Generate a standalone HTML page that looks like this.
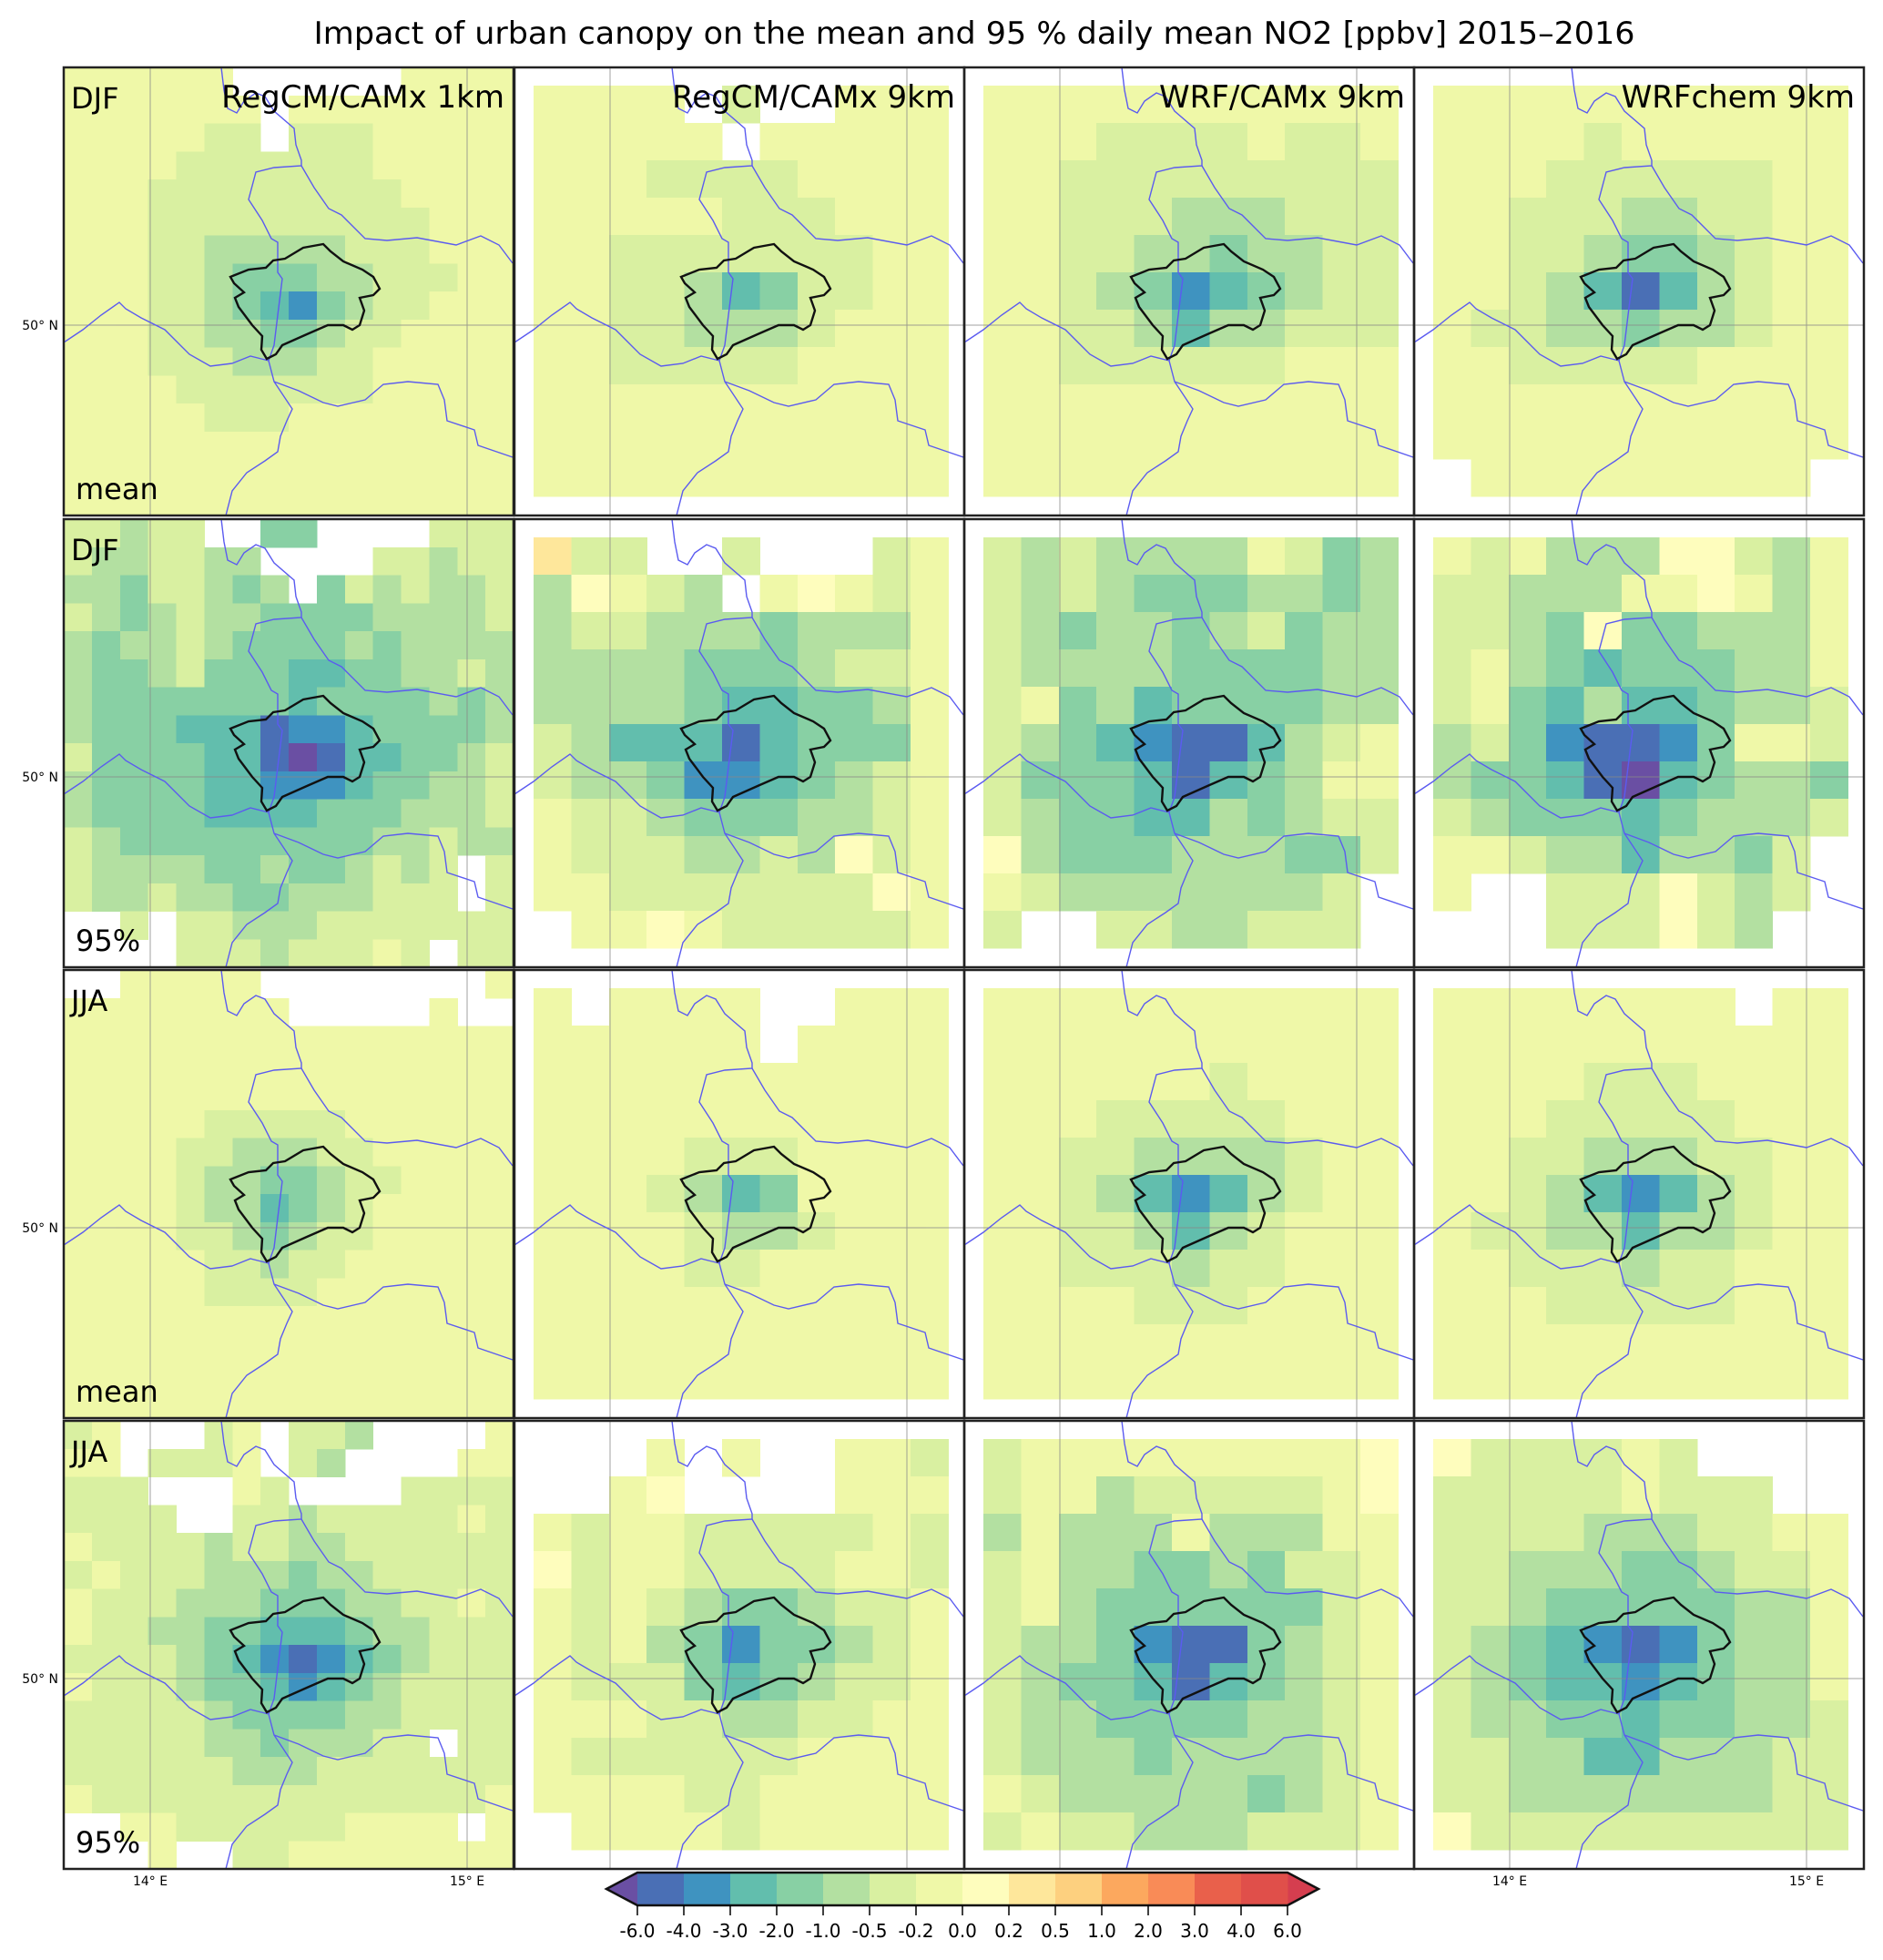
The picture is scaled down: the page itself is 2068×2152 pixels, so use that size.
<!DOCTYPE html>
<html><head><meta charset="utf-8"><title>Impact of urban canopy on NO2</title>
<style>
html,body{margin:0;padding:0;background:#fff;}
svg{display:block;font-family:"DejaVu Sans","Liberation Sans",sans-serif;}
</style></head>
<body>
<svg id="fig" xmlns="http://www.w3.org/2000/svg" width="2068" height="2152" viewBox="0 0 2068 2152">
<rect x="0" y="0" width="2068" height="2152" fill="#fff"/>
<text x="1070" y="48" font-size="34" text-anchor="middle" textLength="1451" lengthAdjust="spacingAndGlyphs" fill="#000">Impact of urban canopy on the mean and 95 % daily mean NO2 [ppbv] 2015–2016</text>
<g id="panels"></g>
<g id="colorbar"></g>
</svg>
<script>
// ---------- data ----------
const levelCodes = ["P","A","B","C","D","E","F","G","H","I"];
const levelColors = ["#6a4fa3","#4a6fb5","#3f93c0","#62bead","#88d0a4","#b3e0a1","#d9f0a1","#eff8a8","#fefdbd","#fee79b"];

const cbTicks = ["-6.0","-4.0","-3.0","-2.0","-1.0","-0.5","-0.2","0.0","0.2","0.5","1.0","2.0","3.0","4.0","6.0"];
const cbColors = ["#4a6fb5","#3f93c0","#62bead","#88d0a4","#b3e0a1","#d9f0a1","#eff8a8","#fefdbd","#fee79b","#fdd07f","#fca85e","#f98b57","#e9604b","#e04f4a"];

const djfMean1km = ["GGGGGG......GGGG","GGGGGGG.GGGGGGGG","GGGGGFF.FFFGGGGG","GGGGFFFFFFFGGGGG","GGGFFFFFFFFFGGGG","GGGFFFFFFFFFFGGG","GGGFFEEEEEFFFGGG","GGGFFEDDDEEFFFGG","GGGFFEDCBDEFFGGG","GGGFFEEDDEFFGGGG","GGGFFFEEEFFGGGGG","GGGGFFFFFFFGGGGG","GGGGGFFFGGGGGGGG","GGGGGGGGGGGGGGGG","GGGGGGGGGGGGGGGG","GGGGGGGGGGGGGGGG"];
const djfMeanRegcm9 = ["GGGG.F..GGG","GGGGG.GGGGG","GGGFFFFGGGG","GGGGGFFFGGG","GGFFFFFFFGG","GGFFECDFFGG","GGFFEEEFGGG","GGFFFFFGGGG","GGGGGGGGGGG","GGGGGGGGGGG","GGGGGGGGGGG"];
const djfMeanWrf9 = ["GGGGGGGGGGG","GGGFFFFGFFG","GGFFFFFFFFF","GGFFFEEEFFF","GGFFEEDEEFF","GGFEDBCDEFF","GGFFECEEFFF","GGFFFFFFGGG","GGGGGGGGGGG","GGGGGGGGGGG","GGGGGGGGGGG"];
const djfMeanChem9 = ["GGGGGGGGGGG","GGGGFGGGGGG","GGGFFFFFFGG","GGFFFEEFFGG","GGFFEDDEFGG","GGFECACEFGG","GFFEEDEEFGG","GGFFFFFGGGG","GGGGGGGGGGG","GGGGGGGGGGG",".GGGGGGGGG."];

const djf95_1km = ["FFEFF..DD....FFF","FEEFFEE....FFEFF","EEDFFEDE.DFEFEEF","FEDEFEEDDDDEEEEF","EDEEFEDDDDEDEEEE","EDDEFDDDCCDDEEFE","EDDDDDDDCDDDDEDE","EDDDCCCABBCDDDDE","FDDDDCCAPACCDDEF","EDDDDCCBBBCDDEEF","EDDDDCCCCDDDEEEF","FEDDDDDDDDDEEFEE","FEEEEDDEDDEFEF.F","FEEFEEDDEEEFFF.F","..F.FFEEEFFFFFFF","....FFFEFFFGF.FF"];
const djf95Regcm9 = ["IFF..F...FG","EHGFE.GHGFG","EFFEEEDEEEG","EEEEDDDEFFG","EEEEDCCDDEG","FECCCACDDDG","FEEDBBCDEFG","GFFEDDDEEFG","GFFFEEFEHFG","GGFFFFFFFHG",".GGHGFFFFFG"];
const djf95Wrf9 = ["FEFEEEEGFDE","FEFEDDDEEDE","FEDEEDEFDEE","FEEEEDDDDEE","FGDECDDDDEE","FEDCBAACEFG","FDDDCACDEGG","FEDDCCEDEFF","HEDDDEEEDDF","GFEEEEEEEF.","F..FFEEFFF."];
const djf95Chem9 = ["GFGEEEHHFEG","FFEEEGGHGEG","FFEDHDDEEEG","FGEDCDDDEEG","FGDCECCDEEF","EFDBAABDGGF","EDDCAPCDEED","FEDDDCDEEEF","GGFEECEEDF.","G..FFFHFEF.","...FFFHFE.."];

const jjaMean1km = ["..GGGGG........G","GGGGGGGG.....G..","GGGGGGGGGGGGGGGG","GGGGGGGGGGGGGGGG","GGGGGGGGGGGGGGGG","GGGGGFFFFFGGGGGG","GGGGFFEEEFFGGGGG","GGGGFEEDDEFFGGGG","GGGGFEECDEFGGGGG","GGGGFFEDEFFGGGGG","GGGGGFFEFFGGGGGG","GGGGGFFFFGGGGGGG","GGGGGGGGGGGGGGGG","GGGGGGGGGGGGGGGG","GGGGGGGGGGGGGGGG","GGGGGGGGGGGGGGGG"];
const jjaMeanRegcm9 = ["G.GGGG..GGG","GGGGGG.GGGG","GGGGGGGGGGG","GGGGGGGGGGG","GGGGFFFGGGG","GGGFECDGGGG","GGGGFEEFGGG","GGGGFFGGGGG","GGGGGGGGGGG","GGGGGGGGGGG","GGGGGGGGGGG"];
const jjaMeanWrf9 = ["GGGGGGGGGGG","GGGGGGGGGGG","GGGGGGFGGGG","GGGFFFFFGGG","GGFFEEEEFGG","GGFECBCEFGG","GGFFECEFGGG","GGFFFEFFGGG","GGGGFFFGGGG","GGGGGGGGGGG","GGGGGGGGGGG"];
const jjaMeanChem9 = ["GGGGGGGG.GG","GGGGGGGGGGG","GGGGFFFGGGG","GGGFFFFFGGG","GGFFEEEFFGG","GGFECBCEFGG","GFFEECEEFGG","GGFFFEFFGGG","GGGFFFFFGGG","GGGGGGGGGGG","GGGGGGGGGGG"];

const jja95_1km = ["FG...FG.FFE....G","GG.FFFG.FE....GG","FFF...GF....FFFF","FFFF..FFEFFFFFGF","GFFFFEFFEEFFFFFF","FGFFFEEEDEEFFFFF","GFFFEEEDDDEEFFGF","GFFEEDDCCCDEEFFF","FFFFEDCBABCDEFFF","GFFFEDDCBCDEFFFF","FFFFFEDDDDEEFFFF","FFFFFEEDEEEFF.FF","FFFFFFEEEFFFFFFF","GFFFFFFFFFFFFFFG","..GGFFFFFFGGGG.G","...G..FFGGGGGGGG"];
const jja95Regcm9 = ["...G.G..GGF","..GH....GGG","GFGGFFFFFGF","HFGGFFFFGGF","GFGFEDDEFFG","GFGEDBDDEFG","GFFFDCDEFFG","GGGFFEEFFGG","GFFFFFFGGGG","GGGGFFGGGGG",".GGGGFGGGGG"];
const jja95Wrf9 = ["FGGGGGGGGGH","FGGEFFFFFGH","EGEEEGEEEGG","FGEEDDEDFFG","FGEDDDDDDFG","FEEDBAADEFG","FEDDCACDEFG","FEEDDDDEEFG","FEEEDEEEEFG","GFEEEEEDEFG","FGFFEEEFFFG"];
const jja95Chem9 = ["HFFFFGF....","FFFFFGFFF..","FFFFEEEFFGG","FFEEEDDEFFG","FFEDDDDDEEG","FEDCBABDEEG","FEDCCBCDEEG","FEEDDCDDEEF","FFEECCEEEFF","FFEEEEEEEFF","HFFFFFFFFFF"];

// ---------- layout ----------
const PANEL_X = [70, 565, 1059, 1553];
const PANEL_Y = [74, 570, 1065, 1560];
const PW = 494, PH = 492;
const panelGrids = [
  [djfMean1km, djfMeanRegcm9, djfMeanWrf9, djfMeanChem9],
  [djf95_1km, djf95Regcm9, djf95Wrf9, djf95Chem9],
  [jjaMean1km, jjaMeanRegcm9, jjaMeanWrf9, jjaMeanChem9],
  [jja95_1km, jja95Regcm9, jja95Wrf9, jja95Chem9]
];
const colTitles = ["RegCM/CAMx 1km","RegCM/CAMx 9km","WRF/CAMx 9km","WRFchem 9km"];
const colSlugs = ["regcm-camx-1km","regcm-camx-9km","wrf-camx-9km","wrfchem-9km"];
const rowSeason = ["DJF","DJF","JJA","JJA"];
const rowStat = ["mean","95%","mean","95%"];
const rowSlugs = ["djf-mean","djf-95","jja-mean","jja-95"];

const NS = "http://www.w3.org/2000/svg";
function mk(tag, attrs, parent){
  const e = document.createElementNS(NS, tag);
  for (const k in attrs) e.setAttribute(k, attrs[k]);
  if (parent) parent.appendChild(e);
  return e;
}
function colorOf(code){
  const i = levelCodes.indexOf(code);
  return i < 0 ? null : levelColors[i];
}

const outlinePts = [[183,230],[203,222],[222,220],[230,212],[243,210],[263,198],[285,194],[293,202],[307,213],[328,222],[340,230],[347,243],[340,250],[325,253],[330,267],[325,283],[317,288],[307,283],[290,283],[267,293],[240,305],[233,315],[223,320],[217,310],[218,295],[207,283],[192,263],[188,253],[198,247],[187,237]];
const riverLines = [
  [[173,0],[176,25],[180,45],[190,50],[198,37],[211,28],[221,32],[231,48],[253,67],[255,85],[261,102],[261,108],[231,110],[211,115],[203,145],[218,168],[228,188],[235,192],[235,225],[240,232],[235,272],[231,305],[225,322],[231,345],[251,375],[245,388],[238,405],[235,422],[221,432],[201,445],[185,465],[178,492]],
  [[261,108],[275,132],[291,155],[305,162],[331,188],[355,190],[388,187],[431,195],[458,185],[478,195],[493,215]],
  [[0,302],[21,288],[41,272],[61,258],[68,265],[85,275],[111,288],[138,315],[161,328],[185,325],[205,317],[225,322]],
  [[231,345],[258,355],[285,368],[301,372],[331,365],[351,348],[378,345],[411,348],[418,365],[421,388],[451,398],[455,415],[493,428]]
];
function ptsToPath(p, close){ return "M" + p.map(q => q[0] + "," + q[1]).join(" L") + (close ? " Z" : ""); }

const panelsG = document.getElementById("panels");
for (let r = 0; r < 4; r++) {
  for (let c = 0; c < 4; c++) {
    const px = PANEL_X[c], py = PANEL_Y[r];
    const grid = panelGrids[r][c];
    const pg = mk("g", {}, panelsG);
    
    
    const sv = mk("svg", {x: px, y: py, width: PW, height: PH, overflow: "hidden"}, pg);
    const cells = mk("g", {"shape-rendering": "crispEdges"}, sv);
    
    
    let x0, y0, cw, ch;
    if (c === 0) { x0 = 0; y0 = 0; cw = PW / grid[0].length; ch = PH / grid.length; }
    else { x0 = 21; y0 = 20; cw = 41.4; ch = 41; }
    for (let i = 0; i < grid.length; i++) {
      for (let j = 0; j < grid[i].length; j++) {
        const col = colorOf(grid[i][j]);
        if (!col) continue;
        const rc = mk("rect", {x: (x0 + j*cw).toFixed(2), y: (y0 + i*ch).toFixed(2), width: (cw + 0.6).toFixed(2), height: (ch + 0.6).toFixed(2), fill: col}, cells);
        
        
      }
    }
    // graticule
    const gx = c === 0 ? [95, 443] : [105, 431];
    const gr = mk("g", {stroke: "#888", "stroke-width": "1", fill: "none", opacity: "0.8"}, sv);
    
    
    gx.forEach(v => mk("line", {x1: v, y1: 0, x2: v, y2: PH}, gr));
    mk("line", {x1: 0, y1: 283, x2: PW, y2: 283}, gr);
    // rivers
    const rv = mk("g", {stroke: "#5b5bf0", "stroke-width": "1.4", fill: "none"}, sv);
    
    
    riverLines.forEach(l => mk("path", {d: ptsToPath(l, false)}, rv));
    // city outline
    const ol = mk("path", {d: ptsToPath(outlinePts, true), stroke: "#111", "stroke-width": "2.4", fill: "none"}, sv);
    
    
    // border
    const bd = mk("rect", {x: px, y: py, width: PW, height: PH, fill: "none", stroke: "#222", "stroke-width": "2.5"}, pg);
    
    
    // labels
    if (c === 0) {
      const t1 = mk("text", {x: px + 8, y: py + 45, "font-size": "32", fill: "#000"}, pg);
      t1.textContent = rowSeason[r];
      
      
      const t2 = mk("text", {x: px + 13, y: py + 474, "font-size": "32", fill: "#000"}, pg);
      t2.textContent = rowStat[r];
      
      
      const lat = mk("text", {x: 64, y: py + 288, "font-size": "14", "text-anchor": "end", fill: "#000"}, pg);
      lat.textContent = "50° N";
      
      
    }
    if (r === 0) {
      const tt = mk("text", {x: px + PW - 10, y: py + 44, "font-size": "34", "text-anchor": "end", fill: "#000"}, pg);
      tt.textContent = colTitles[c];
      
      
    }
    if (r === 3 && (c === 0 || c === 3)) {
      const lonX = c === 0 ? [95, 443] : [105, 431];
      ["14° E", "15° E"].forEach((s, k) => {
        const lt = mk("text", {x: px + lonX[k], y: 2070, "font-size": "14", "text-anchor": "middle", fill: "#000"}, pg);
        lt.textContent = s;
        
        
      });
    }
  }
}

// ---------- colorbar ----------
const cb = document.getElementById("colorbar");
const CBX0 = 700, CBX1 = 1414, CBY0 = 2056, CBY1 = 2092;
const nb = cbColors.length;
const bw = (CBX1 - CBX0) / nb;
function cbX(i){ return CBX0 + i * bw; }
const la = mk("polygon", {points: `${CBX0},${CBY0} ${CBX0},${CBY1} 666,${(CBY0+CBY1)/2}`, fill: "#6a4fa3"}, cb);


const ra = mk("polygon", {points: `${CBX1},${CBY0} ${CBX1},${CBY1} 1448,${(CBY0+CBY1)/2}`, fill: "#d53e4f"}, cb);


for (let i = 0; i < nb; i++) {
  const b = mk("rect", {x: cbX(i).toFixed(2), y: CBY0, width: (bw + 0.5).toFixed(2), height: CBY1 - CBY0, fill: cbColors[i]}, cb);
  
  
}
const outl = mk("polygon", {points: `666,${(CBY0+CBY1)/2} ${CBX0},${CBY0} ${CBX1},${CBY0} 1448,${(CBY0+CBY1)/2} ${CBX1},${CBY1} ${CBX0},${CBY1}`, fill: "none", stroke: "#111", "stroke-width": "2.5"}, cb);


cbTicks.forEach((t, i) => {
  const x = cbX(i);
  const tk = mk("line", {x1: x, y1: CBY1, x2: x, y2: CBY1 + 11, stroke: "#000", "stroke-width": "1.5"}, cb);
  
  
  const tl = mk("text", {x: x, y: 2127, "font-size": "20", "text-anchor": "middle", fill: "#000"}, cb);
  tl.textContent = t;
  
  
});
</script>
</body></html>
